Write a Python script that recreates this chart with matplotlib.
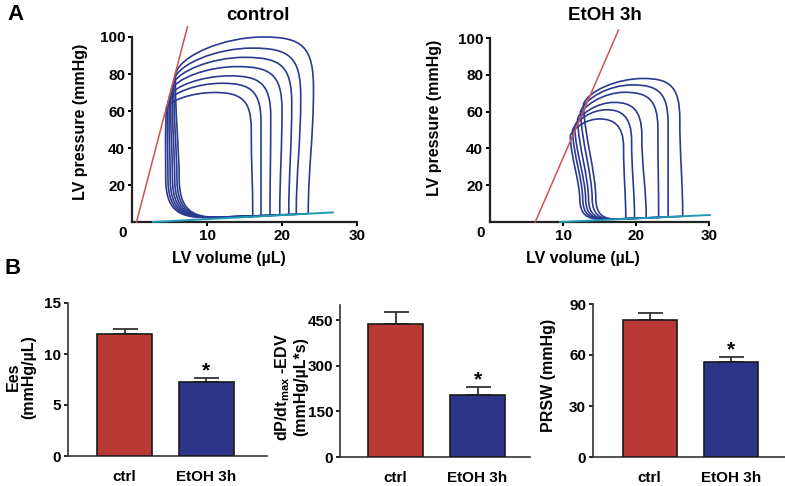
import numpy as np
import matplotlib
matplotlib.use("Agg")
import matplotlib.pyplot as plt
from matplotlib.path import Path
from matplotlib.patches import PathPatch

plt.rcParams["font.family"] = "Liberation Sans"
plt.rcParams["font.weight"] = "bold"
plt.rcParams["mathtext.fontset"] = "custom"
plt.rcParams["mathtext.rm"] = "Liberation Sans"

# -----------------------------------------------------------
# PV loop values (innermost -> outermost)
# -----------------------------------------------------------
ctrl_pmax = [70, 75, 79, 84, 89, 94, 100]
ctrl_edv = [16.1, 17.2, 18.4, 19.7, 20.9, 21.9, 23.5]
ctrl_edp = [2.9, 3.1, 3.4, 3.7, 3.9, 4.1, 4.5]
ctrl_vright = [15.9, 17.2, 18.5, 20.0, 21.3, 22.5, 24.2]
ctrl_vtop = [11.0, 12.0, 13.0, 14.0, 15.0, 16.0, 17.5]
ctrl_esv = [4.6, 4.8, 5.0, 5.2, 5.4, 5.6, 5.8]
ctrl_esp = [62, 65, 68, 71, 74, 77, 80]
ctrl_vlow = [4.5, 4.8, 5.1, 5.4, 5.7, 6.0, 6.3]
ctrl_pmin = 2.5
ctrl_espvr_v, ctrl_espvr_p = [0.6, 7.4], [0.0, 105.6]
ctrl_edpvr_v, ctrl_edpvr_p = [2.8, 26.8], [0.0, 5.2]

etoh_pmax = [56, 61, 65, 70.5, 74.5, 78]
etoh_edv = [18.6, 19.8, 21.4, 23.1, 24.4, 26.4]
etoh_edp = [1.7, 1.9, 2.2, 2.5, 2.7, 3.1]
etoh_vright = [18.3, 19.4, 20.8, 23.0, 24.4, 26.0]
etoh_vtop = [15.0, 16.0, 17.0, 18.5, 19.5, 21.0]
etoh_esv = [11.0, 11.3, 11.6, 12.0, 12.4, 12.8]
etoh_esp = [47, 50, 52, 56, 60, 64]
etoh_vlow = [12.3, 12.7, 13.1, 13.5, 14.0, 14.5]
etoh_pmin = 1.5
etoh_espvr_v, etoh_espvr_p = [6.2, 17.6], [0.0, 104.3]
etoh_edpvr_v, etoh_edpvr_p = [9.6, 30.1], [0.0, 3.8]

# bar data
groups = ["ctrl", "EtOH 3h"]
ees_mean, ees_sem = [12.0, 7.25], [0.45, 0.4]
dpdt_mean, dpdt_sem = [436, 203], [40, 27]
prsw_mean, prsw_sem = [80.3, 55.8], [4.4, 3.0]

loop_color = "#2b3990"
red_line = "#cc5550"
teal_line = "#1f9ab4"
bar_colors = ["#b93a34", "#2c3587"]


def loop_path(edv, edp, vright, pmax, vtop, esv, esp, vlow, pmin, corner_p, corner_len):
    # Bezier outline of one PV loop: right side, top, left side, bottom
    verts = [(edv, edp),
             (edv, edp + 0.25 * pmax), (vright, 0.45 * pmax), (vright, 0.72 * pmax),
             (vright, 0.95 * pmax), (vright - 1.5, pmax), (vtop, pmax),
             (vtop - 0.45 * (vtop - esv), pmax), (esv + 0.6, esp + 0.5 * (pmax - esp)), (esv, esp),
             (esv + 0.2 * (vlow - esv) - 0.2, esp - 0.35 * (esp - corner_p)),
             (vlow, corner_p + 0.3 * (esp - corner_p)), (vlow, corner_p),
             (vlow + 0.1, 0.35 * corner_p), (vlow + 0.3 * corner_len, pmin),
             (vlow + corner_len, pmin),
             (edv, edp)]
    codes = [Path.MOVETO] + [Path.CURVE4] * 15 + [Path.LINETO]
    return Path(verts, codes)


def pv_panel(ax, pmax, edv, edp, vright, vtop, esv, esp, vlow, pmin,
             espvr_v, espvr_p, edpvr_v, edpvr_p, corner_p, corner_len):
    for i in range(len(pmax)):
        p = loop_path(edv[i], edp[i], vright[i], pmax[i], vtop[i],
                      esv[i], esp[i], vlow[i], pmin, corner_p, corner_len)
        ax.add_patch(PathPatch(p, fill=False, edgecolor=loop_color, lw=1.2,
                               clip_on=False, zorder=2))
    ax.plot(espvr_v, espvr_p, color=red_line, lw=1.1, clip_on=False, zorder=3)
    ax.plot(edpvr_v, edpvr_p, color=teal_line, lw=1.4, clip_on=False, zorder=3)
    ax.set_xlim(0, 30)
    ax.set_ylim(0, 100)
    ax.set_xticks([10, 20, 30])
    ax.set_yticks([20, 40, 60, 80, 100])
    for s in ["top", "right"]:
        ax.spines[s].set_visible(False)
    for s in ["left", "bottom"]:
        ax.spines[s].set_linewidth(1.6)
        ax.spines[s].set_color("#222222")
    ax.tick_params(direction="out", length=3, width=1.4, labelsize=11, pad=2)
    ax.annotate("0", (0, 0), xytext=(-6.5, -8), textcoords="offset points",
                ha="center", va="center", fontsize=11, fontweight="bold")


def bar_panel(ax, mean, sem, ymax, yticks):
    x = np.arange(len(groups))
    ax.bar(x, mean, width=0.67, color=bar_colors, edgecolor="#1a1a1a", lw=1.2, zorder=3)
    ax.errorbar(x, mean, yerr=[[0] * len(sem), sem], fmt="none", ecolor="#333333",
                elinewidth=1.3, capsize=9, capthick=1.3, zorder=2)
    ax.annotate("*", (1, mean[1] + sem[1]), xytext=(0, -1.5), textcoords="offset points",
                ha="center", va="bottom", fontsize=15, fontweight="bold")
    ax.set_ylim(0, ymax)
    ax.set_yticks(yticks)
    ax.set_xticks(x)
    ax.set_xticklabels(groups)
    for s in ["top", "right"]:
        ax.spines[s].set_visible(False)
    for s in ["left", "bottom"]:
        ax.spines[s].set_linewidth(1.2)
        ax.spines[s].set_color("#333333")
    ax.tick_params(axis="y", direction="out", length=3, width=1.2, labelsize=11, pad=2)
    ax.tick_params(axis="x", length=0, labelsize=11, pad=10)


W, H = 785, 486
fig = plt.figure(figsize=(7.85, 4.86), dpi=100)


def axes_px(left, top, right, bottom):
    return fig.add_axes([left / W, 1 - bottom / H, (right - left) / W, (bottom - top) / H])


ax1 = axes_px(132, 37, 357, 222)
pv_panel(ax1, ctrl_pmax, ctrl_edv, ctrl_edp, ctrl_vright, ctrl_vtop, ctrl_esv,
         ctrl_esp, ctrl_vlow, ctrl_pmin, ctrl_espvr_v, ctrl_espvr_p,
         ctrl_edpvr_v, ctrl_edpvr_p, 22, 5.0)
ax2 = axes_px(490, 38, 709, 222)
pv_panel(ax2, etoh_pmax, etoh_edv, etoh_edp, etoh_vright, etoh_vtop, etoh_esv,
         etoh_esp, etoh_vlow, etoh_pmin, etoh_espvr_v, etoh_espvr_p,
         etoh_edpvr_v, etoh_edpvr_p, 12, 3.0)

ax3 = axes_px(68, 303, 267, 456)
bar_panel(ax3, ees_mean, ees_sem, 15, [0, 5, 10, 15])
ax3.set_xlim(-0.69, 1.74)
ax4 = axes_px(340, 305, 530, 457)
bar_panel(ax4, dpdt_mean, dpdt_sem, 500, [0, 150, 300, 450])
ax4.set_xlim(-0.68, 1.64)
ax5 = axes_px(593, 304, 785, 457)
bar_panel(ax5, prsw_mean, prsw_sem, 90, [0, 30, 60, 90])
ax5.set_xlim(-0.70, 1.67)


def ftext(x, y, s, **kw):
    fig.text(x / W, 1 - y / H, s, ha="center", va="center", fontweight="bold", **kw)


ftext(15, 15, "A", fontsize=16)
ftext(13, 268, "B", fontsize=16)
ftext(258, 15, "control", fontsize=13.5)
ftext(605, 15, "EtOH 3h", fontsize=13.5)
ftext(80, 122, "LV pressure (mmHg)", fontsize=11.5, rotation=90)
ftext(435, 118, "LV pressure (mmHg)", fontsize=11.5, rotation=90)
ftext(229, 259, "LV volume (µL)", fontsize=11.5)
ftext(583, 259, "LV volume (µL)", fontsize=11.5)
ftext(21, 377, "Ees\n(mmHg/µL)", fontsize=11.5, rotation=90, linespacing=1.1)
ftext(291, 387, "dP/dt$_{\\rm max}$ -EDV\n(mmHg/µL*s)", fontsize=11.5, rotation=90,
      linespacing=1.1)
ftext(548, 375, "PRSW (mmHg)", fontsize=11.5, rotation=90)

fig.savefig("out.png", dpi=100)
